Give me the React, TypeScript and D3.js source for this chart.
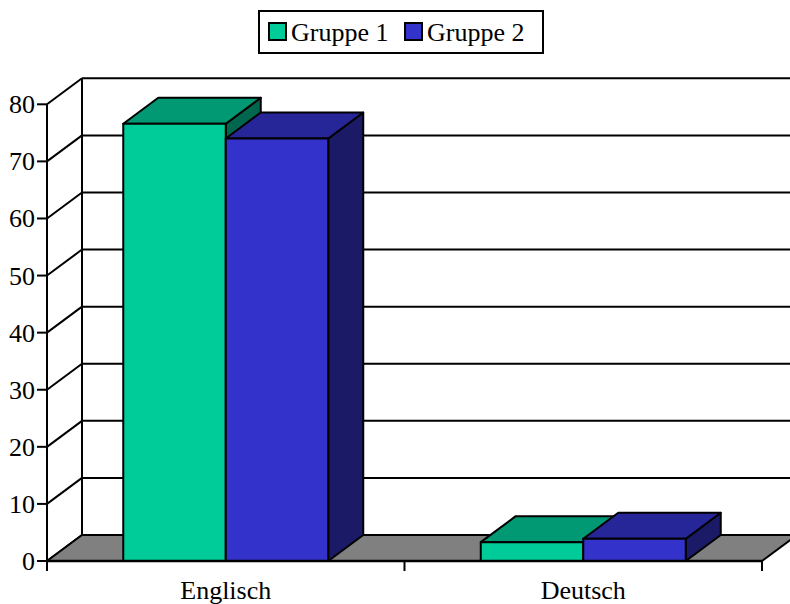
import React from "react";
import * as d3 from "d3";

const categories = ["Englisch", "Deutsch"];
const groups = ["Gruppe 1", "Gruppe 2"];
const gruppe1 = [76.6, 3.3];
const gruppe2 = [74.0, 3.9];
const yTicks = [0, 10, 20, 30, 40, 50, 60, 70, 80];

const W = 790;
const H = 604;
const DX = 35; // depth offset of the 3D box
const DY = -26;

const palette = {
  "Gruppe 1": { front: "#00CC99", top: "#009973", side: "#00664D" },
  "Gruppe 2": { front: "#3333CC", top: "#262699", side: "#1A1A66" },
};

export default function App() {
  const x0 = d3.scaleBand<string>().domain(categories).range([47, 762]).padding(0);
  const x1 = d3
    .scaleBand<string>()
    .domain(groups)
    .range([0, x0.bandwidth()])
    .paddingInner(0)
    .paddingOuter(0.744);
  const y = d3.scaleLinear().domain([0, 80]).range([561, 104.3]);

  const series = [gruppe1, gruppe2];
  const font = "'Liberation Serif', 'Times New Roman', serif";
  const fs = 26;
  const pts = (a: [number, number][]) => a.map((p) => p.join(",")).join(" ");

  const xL = 47;
  const xR = 762;
  const y0 = y(0);

  return (
    <svg width={W} height={H} style={{ position: "absolute", left: 0, top: 0, background: "#fff" }}>
      {/* back wall gridlines */}
      {yTicks.map((t) => (
        <g key={"g" + t}>
          <line x1={xL + DX} x2={W} y1={y(t) + DY} y2={y(t) + DY} stroke="#000" strokeWidth={2} />
          <line x1={xL} x2={xL + DX} y1={y(t)} y2={y(t) + DY} stroke="#000" strokeWidth={2} />
        </g>
      ))}
      <line x1={xL + DX} x2={xL + DX} y1={y(80) + DY} y2={y0 + DY} stroke="#000" strokeWidth={2} />

      {/* floor */}
      <polygon
        points={pts([
          [xL, y0],
          [xR, y0],
          [xR + DX, y0 + DY],
          [xL + DX, y0 + DY],
        ])}
        fill="#808080"
        stroke="#000"
        strokeWidth={2}
        strokeLinejoin="round"
      />

      {/* bars */}
      {categories.map((c, ci) =>
        groups.map((g, gi) => {
          const bx = (x0(c) as number) + (x1(g) as number);
          const bw = x1.bandwidth();
          const top = y(series[gi][ci]);
          const col = palette[g as keyof typeof palette];
          return (
            <g key={c + g} stroke="#000" strokeWidth={2} strokeLinejoin="round">
              <polygon
                points={pts([
                  [bx + bw, top],
                  [bx + bw + DX, top + DY],
                  [bx + bw + DX, y0 + DY],
                  [bx + bw, y0],
                ])}
                fill={col.side}
              />
              <polygon
                points={pts([
                  [bx, top],
                  [bx + DX, top + DY],
                  [bx + bw + DX, top + DY],
                  [bx + bw, top],
                ])}
                fill={col.top}
              />
              <rect x={bx} y={top} width={bw} height={y0 - top} fill={col.front} />
            </g>
          );
        })
      )}

      {/* front axes */}
      <line x1={xL} x2={xL} y1={y(80)} y2={571} stroke="#000" strokeWidth={2} />
      <line x1={xL} x2={xR} y1={y0} y2={y0} stroke="#000" strokeWidth={2.5} />
      {[...categories.map((c) => x0(c) as number), xR].map((xv, i) => (
        <line key={"xt" + i} x1={xv} x2={xv} y1={y0} y2={571} stroke="#000" strokeWidth={2} />
      ))}
      {yTicks.map((t) => (
        <g key={"yt" + t}>
          <line x1={37} x2={xL} y1={y(t)} y2={y(t)} stroke="#000" strokeWidth={2} />
          <text x={35} y={y(t) + 9} textAnchor="end" fontFamily={font} fontSize={fs} fill="#000">
            {t}
          </text>
        </g>
      ))}
      {categories.map((c) => (
        <text
          key={"lbl" + c}
          x={(x0(c) as number) + x0.bandwidth() / 2}
          y={599}
          textAnchor="middle"
          fontFamily={font}
          fontSize={fs}
          fill="#000"
        >
          {c}
        </text>
      ))}

      {/* legend */}
      <rect x={259} y={11} width={284} height={42} fill="#fff" stroke="#000" strokeWidth={2} />
      {groups.map((g, i) => {
        const lx = i === 0 ? 269 : 405;
        const col = palette[g as keyof typeof palette];
        return (
          <g key={"lg" + g}>
            <rect x={lx} y={23} width={17} height={17} fill={col.front} stroke="#000" strokeWidth={2} />
            <text x={lx + 22} y={41} fontFamily={font} fontSize={fs} fill="#000">
              {g}
            </text>
          </g>
        );
      })}
    </svg>
  );
}
